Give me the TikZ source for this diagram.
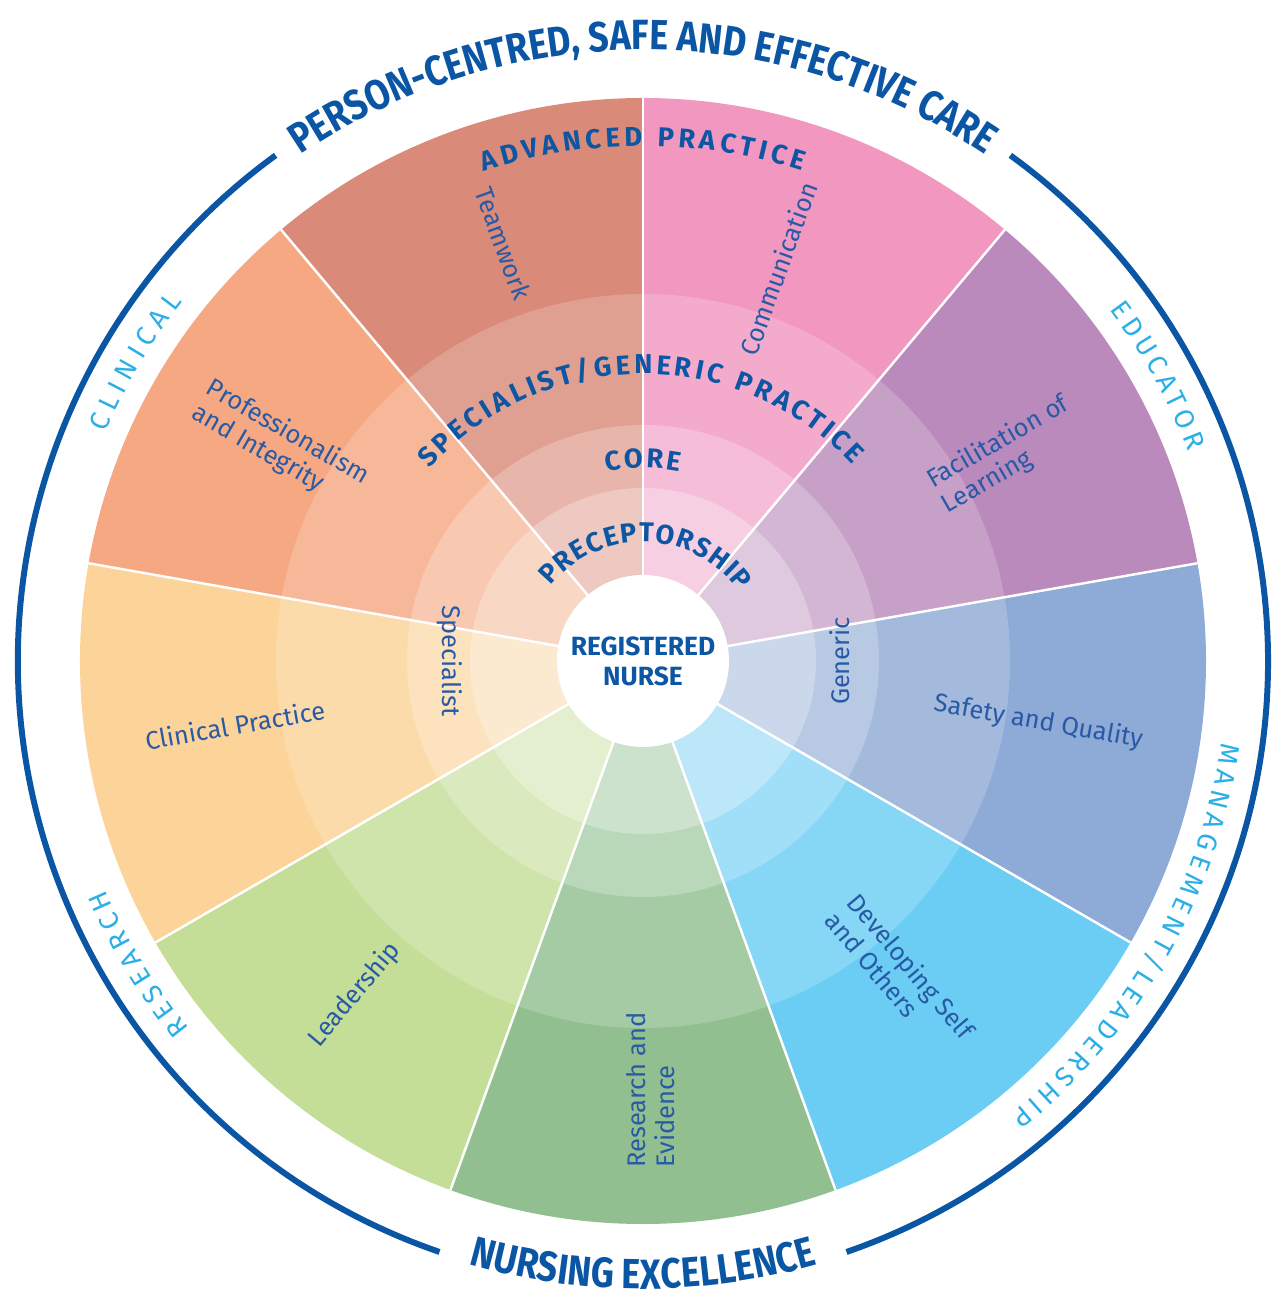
\documentclass[tikz,border=0pt]{standalone}
\usepackage{fontspec}
\usepackage{xcolor}
\usepackage{tikz}
\usetikzlibrary{decorations.text}
\setmainfont{Fira Sans}
\newfontfamily\headfont[FakeStretch=0.85]{Fira Sans}

\definecolor{teamcol}{HTML}{D98A78}
\definecolor{commcol}{HTML}{F197C0}
\definecolor{facilcol}{HTML}{BB8ABC}
\definecolor{safecol}{HTML}{8EAAD6}
\definecolor{devcol}{HTML}{6BCDF4}
\definecolor{rescol}{HTML}{91BF8F}
\definecolor{leadcol}{HTML}{C4DE98}
\definecolor{clincol}{HTML}{FCD398}
\definecolor{profcol}{HTML}{F5A882}
\definecolor{labelblue}{HTML}{285AA5}
\definecolor{headblue}{HTML}{0C56A4}
\definecolor{ringblue}{HTML}{0B56A4}
\definecolor{lightblue}{HTML}{2AAFE6}

\newcommand\bandtext{\bfseries\fontsize{15.5}{18}\selectfont}
\newcommand\ringtext{\headfont\bfseries\fontsize{24}{27}\selectfont}
\newcommand\roletext{\fontsize{15.5}{18}\selectfont}

\begin{document}
\begin{tikzpicture}[x=0.2mm,y=0.2mm,
	divider/.style={white, line width=1.4pt},
	ring/.style={ringblue, line width=3.4pt},
	label node/.style={text=labelblue, align=left, inner sep=0pt, font=\fontsize{14.5}{16.5}\selectfont},
	centre node/.style={text=headblue, align=center, inner sep=0pt, font=\bfseries\fontsize{15}{17}\selectfont},
	curved/.style={decorate, decoration={text along path, text align={fit to path}, text color=headblue}},
	role/.style={decorate, decoration={text along path, text align={fit to path}, text color=lightblue}},
	title/.style={decorate, decoration={text along path, text align=center, text color=ringblue}}]
	\useasboundingbox (-643,-640) rectangle (639,661);
	
	% Sectors
	\fill[commcol] (0,0) -- (90:563) arc[start angle=90, end angle=50, radius=563] -- cycle;
	\fill[facilcol] (0,0) -- (50:563) arc[start angle=50, end angle=10, radius=563] -- cycle;
	\fill[safecol] (0,0) -- (10:563) arc[start angle=10, end angle=-30, radius=563] -- cycle;
	\fill[devcol] (0,0) -- (-30:563) arc[start angle=-30, end angle=-70, radius=563] -- cycle;
	\fill[rescol] (0,0) -- (-70:563) arc[start angle=-70, end angle=-110, radius=563] -- cycle;
	\fill[leadcol] (0,0) -- (-110:563) arc[start angle=-110, end angle=-150, radius=563] -- cycle;
	\fill[clincol] (0,0) -- (-150:563) arc[start angle=-150, end angle=-190, radius=563] -- cycle;
	\fill[profcol] (0,0) -- (170:563) arc[start angle=170, end angle=130, radius=563] -- cycle;
	\fill[teamcol] (0,0) -- (130:563) arc[start angle=130, end angle=90, radius=563] -- cycle;
	
	% lighter bands towards the centre
	\fill[white, opacity=0.19] (0,0) circle[radius=367];
	\fill[white, opacity=0.23] (0,0) circle[radius=236];
	\fill[white, opacity=0.28] (0,0) circle[radius=173];
	
	\draw[divider] (0,0) -- (90:563);
	\draw[divider] (0,0) -- (50:563);
	\draw[divider] (0,0) -- (10:563);
	\draw[divider] (0,0) -- (-30:563);
	\draw[divider] (0,0) -- (-70:563);
	\draw[divider] (0,0) -- (-110:563);
	\draw[divider] (0,0) -- (-150:563);
	\draw[divider] (0,0) -- (170:563);
	\draw[divider] (0,0) -- (130:563);
	
	\fill[white] (0,0) circle[radius=86];
	\node[centre node] (0) at (0,0) {REGISTERED\\NURSE};
	
	% Outer ring
	\draw[ring] (54:625) arc[start angle=54, end angle=-71, radius=625];
	\draw[ring] (-109:625) arc[start angle=-109, end angle=-234, radius=625];
	
	\path[title, decoration={text={|\ringtext|PERSON-CENTRED, SAFE AND EFFECTIVE CARE}}] (150:611) arc[start angle=150, end angle=30, radius=611];
	\path[title, decoration={text={|\ringtext|NURSING EXCELLENCE}}] (-125:628) arc[start angle=-125, end angle=-55, radius=628];
	
	\path[role, decoration={text={|\roletext|CLINICAL}}] (157:584) arc[start angle=157, end angle=142, radius=584];
	\path[role, decoration={text={|\roletext|EDUCATOR}}] (37:584) arc[start angle=37, end angle=21, radius=584];
	\path[role, decoration={text={|\roletext|MANAGEMENT/LEADERSHIP}}] (-8:584) arc[start angle=-8, end angle=-51, radius=584];
	\path[role, decoration={text={|\roletext|RESEARCH}}] (219:584) arc[start angle=219, end angle=203, radius=584];
	
	% Band titles
	\path[curved, decoration={text={|\bandtext|PRECEPTORSHIP}}] (141:119) arc[start angle=141, end angle=36, radius=119];
	\path[curved, decoration={text={|\bandtext|CORE}}] (101:193) arc[start angle=101, end angle=79, radius=193];
	\path[curved, decoration={text={|\bandtext|SPECIALIST/GENERIC PRACTICE}}] (138:287) arc[start angle=138, end angle=43, radius=287];
	\path[curved, decoration={text={|\bandtext|ADVANCED PRACTICE}}] (108:515) arc[start angle=108, end angle=72, radius=515];
	
	\node[label node, rotate=-90] (1) at (180:193) {Specialist};
	\node[label node, rotate=90] (2) at (0:197) {Generic};
	
	% Sector labels
	\node[label node, rotate=-70] (3) at (108.5:440) {Teamwork};
	\node[label node, rotate=70] (4) at (71:415) {Communication};
	\node[label node, rotate=30] (5) at (29.6:417) {Facilitation of\\Learning};
	\node[label node, rotate=-10] (6) at (-8.8:400) {Safety and Quality};
	\node[label node, rotate=-50] (7) at (-50.7:406) {Developing Self\\and Others};
	\node[label node, rotate=90] (8) at (-89:429) {Research and\\Evidence};
	\node[label node, rotate=50] (9) at (-130.8:441) {Leadership};
	\node[label node, rotate=10] (10) at (188.9:413) {Clinical Practice};
	\node[label node, rotate=-30] (11) at (149.2:422) {Professionalism\\and Integrity};
	
\end{tikzpicture}
\end{document}
